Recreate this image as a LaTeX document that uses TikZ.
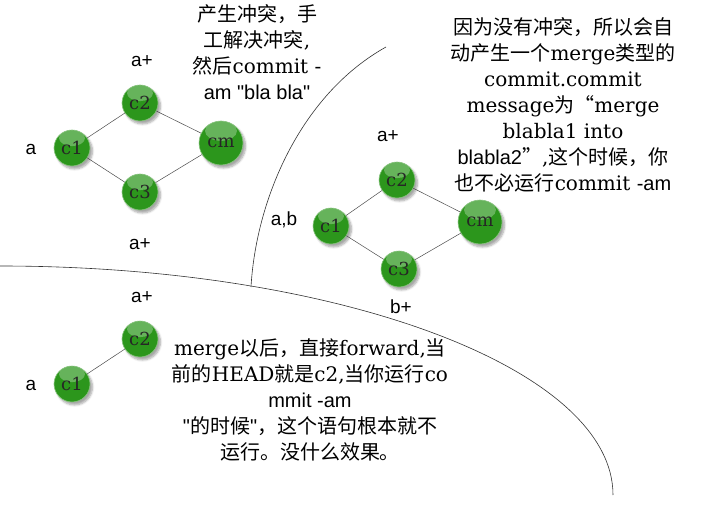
\documentclass[tikz,border=0pt]{standalone}
\usepackage{fontspec}
\setmainfont{DejaVu Serif}
\newfontfamily\cjk{Noto Sans CJK SC}
\newfontfamily\lsans{Liberation Sans}
\usetikzlibrary{calc,shadows.blur}
\definecolor{ballgreen}{RGB}{44,150,28}

\begin{document}
\begin{tikzpicture}[x=1pt, y=-1pt]

% Set the overall frame of the picture
\useasboundingbox (0,0) rectangle (705,511);

% Define styles for commits and links
\tikzstyle{commitball} = [circle, minimum size=36pt, inner sep=0pt, fill=ballgreen,
    draw=ballgreen!55!white, line width=0.6pt, font=\fontsize{18}{20}\selectfont,
    text=black!85,
    blur shadow={shadow xshift=2.5pt, shadow yshift=-3pt, shadow opacity=35, shadow blur steps=6},
    path picture={\fill[white, opacity=0.28]
      ($(path picture bounding box.center)!0.55!(path picture bounding box.north)$)
      ellipse [x radius=13pt, y radius=8pt];}]
\tikzstyle{mergeball} = [commitball, minimum size=44pt,
    path picture={\fill[white, opacity=0.28]
      ($(path picture bounding box.center)!0.55!(path picture bounding box.north)$)
      ellipse [x radius=16pt, y radius=10pt];}]
\tikzstyle{link} = [draw=black!70, line width=0.5pt]
\tikzstyle{border} = [draw=black!80, line width=0.6pt]

% Define styles for branch labels and notes
\tikzstyle{branch} = [inner sep=0pt, font=\lsans\fontsize{19}{22}\selectfont]
\tikzstyle{note} = [align=center, inner sep=0pt, font=\fontsize{20}{26}\selectfont]

% Borders between the three cases
\coordinate (arc top) at (386,47);
\coordinate (arc foot) at (251,287);
\coordinate (rim start) at (0,266);
\draw[border] (arc top) .. controls (300,95) and (256,200) .. (arc foot);
\draw[border] (rim start) arc [start angle=90, end angle=0, x radius=613pt, y radius=229pt];

% Case 1: conflict
\node[commitball] (l1) at (72,148) {c1};
\node[commitball] (l2) at (140,103) {c2};
\node[commitball] (l3) at (140,192) {c3};
\node[mergeball] (lm) at (221,143) {cm};
\draw[link] (l1) -- (l2);
\draw[link] (l1) -- (l3);
\draw[link] (l2) -- (lm);
\draw[link] (l3) -- (lm);
\node[branch] at (31,149) {a};
\node[branch] at (142,61) {a+};
\node[branch] at (140,244) {a+};
\node[note] (conflict) at (257,52)
    {{\cjk 产生冲突，手}\\{\cjk 工解决冲突},\\{\cjk 然后}commit -\\{\lsans am "bla bla"}};

% Case 2: no conflict
\node[commitball] (r1) at (331,226) {c1};
\node[commitball] (r2) at (397,180) {c2};
\node[commitball] (r3) at (399,269) {c3};
\node[mergeball] (rm) at (480,222) {cm};
\draw[link] (r1) -- (r2);
\draw[link] (r1) -- (r3);
\draw[link] (r2) -- (rm);
\draw[link] (r3) -- (rm);
\node[branch] at (284,220) {a,b};
\node[branch] at (388,136) {a+};
\node[branch] at (401,307) {b+};
\node[note] (automerge) at (563,105)
    {{\cjk 因为没有冲突，所以会自}\\{\cjk 动产生一个}merge{\cjk 类型的}\\commit.commit\\
     message{\cjk 为“}merge\\blabla1 into\\{\lsans blabla2}{\cjk ”},{\cjk 这个时候，你}\\
     {\cjk 也不必运行}commit {\lsans -am}};

% Case 3: fast forward
\node[commitball] (b1) at (72,384) {c1};
\node[commitball] (b2) at (140,339) {c2};
\draw[link] (b1) -- (b2);
\node[branch] at (31,385) {a};
\node[branch] at (142,297) {a+};
\node[note] (forward) at (310,400)
    {merge{\cjk 以后，直接}forward,{\cjk 当}\\{\cjk 前的}HEAD{\cjk 就是}c2,{\cjk 当你运行}co\\
     {\lsans mmit -am}\\{\lsans "}{\cjk 的时候}{\lsans "}{\cjk ，这个语句根本就不}\\
     {\cjk 运行。没什么效果。}};

\end{tikzpicture}
\end{document}
